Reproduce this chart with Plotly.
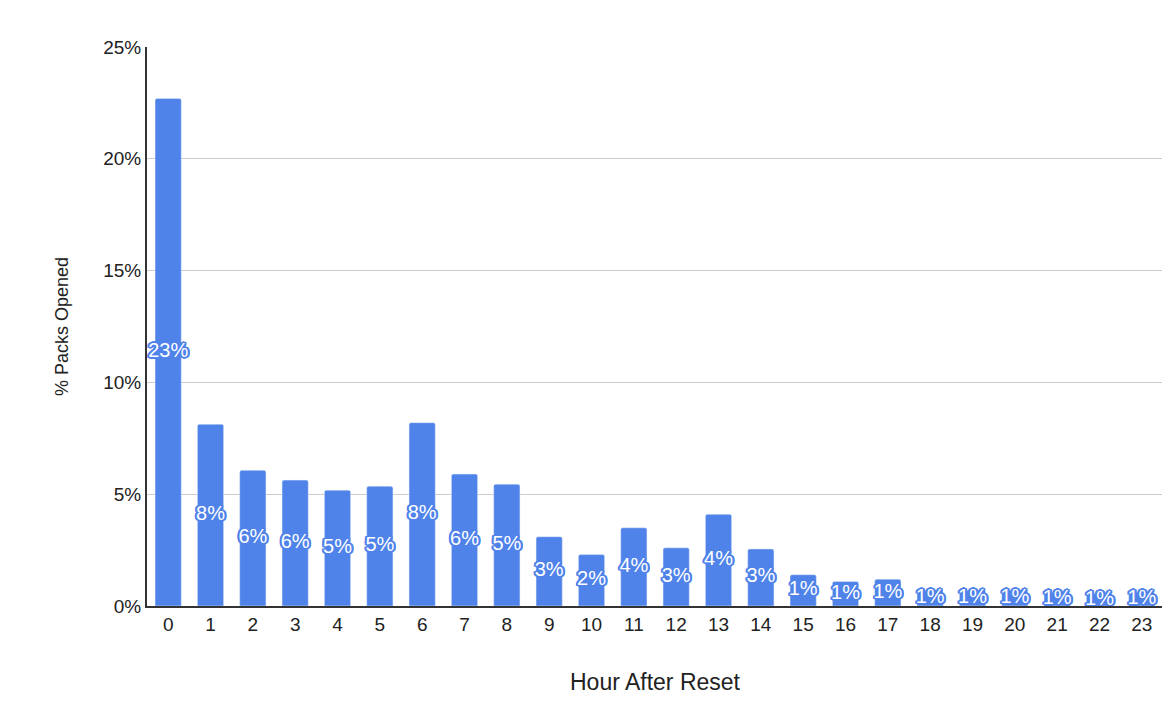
import plotly.graph_objects as go

hours = list(range(24))
values = [22.7, 8.13, 6.07, 5.63, 5.18, 5.36, 8.2, 5.9, 5.45, 3.1, 2.3, 3.5,
          2.6, 4.1, 2.55, 1.4, 1.1, 1.2, 0.7, 0.7, 0.7, 0.6, 0.55, 0.6]
labels = [f"{int(v + 0.5)}%" for v in values]
blue = "#5083EA"

sh = ", ".join(f"{dx}px {dy}px 0 {blue}" for dx, dy in
               [(2, 0), (-2, 0), (0, 2), (0, -2), (1, 1), (-1, -1), (1, -1), (-1, 1),
                (2, 1), (-2, 1), (2, -1), (-2, -1)])

fig = go.Figure()
fig.add_trace(go.Bar(x=hours, y=values, marker=dict(color=blue, cornerradius=2),
                     hoverinfo="skip"))
fig.add_trace(go.Scatter(x=hours, y=[v / 2 for v in values], mode="text", text=labels,
                         textfont=dict(family="Arial", size=20, color="white", shadow=sh),
                         cliponaxis=False, hoverinfo="skip"))
fig.update_layout(
    width=1170, height=722, showlegend=False, plot_bgcolor="white", paper_bgcolor="white",
    margin=dict(l=139, r=15, t=39, b=124), bargap=0.38,
    font=dict(family="Arial", size=19, color="#222"),
    xaxis=dict(tickmode="array", tickvals=hours, ticktext=[str(h) for h in hours],
               range=[-0.5, 23.5], showline=True, linecolor="#333", linewidth=2,
               title=dict(text="Hour After Reset", standoff=40), ticks="", showgrid=False),
    yaxis=dict(range=[0, 25], tickvals=[0, 5, 10, 15, 20, 25],
               ticktext=["0%", "5%", "10%", "15%", "20%", "25%"],
               gridcolor="#ccc", gridwidth=1, showline=True, linecolor="#333", linewidth=2,
               title=dict(text="% Packs Opened", standoff=30, font=dict(size=18)),
               zeroline=False, ticks=""),
)
fig.write_html("out.html")
